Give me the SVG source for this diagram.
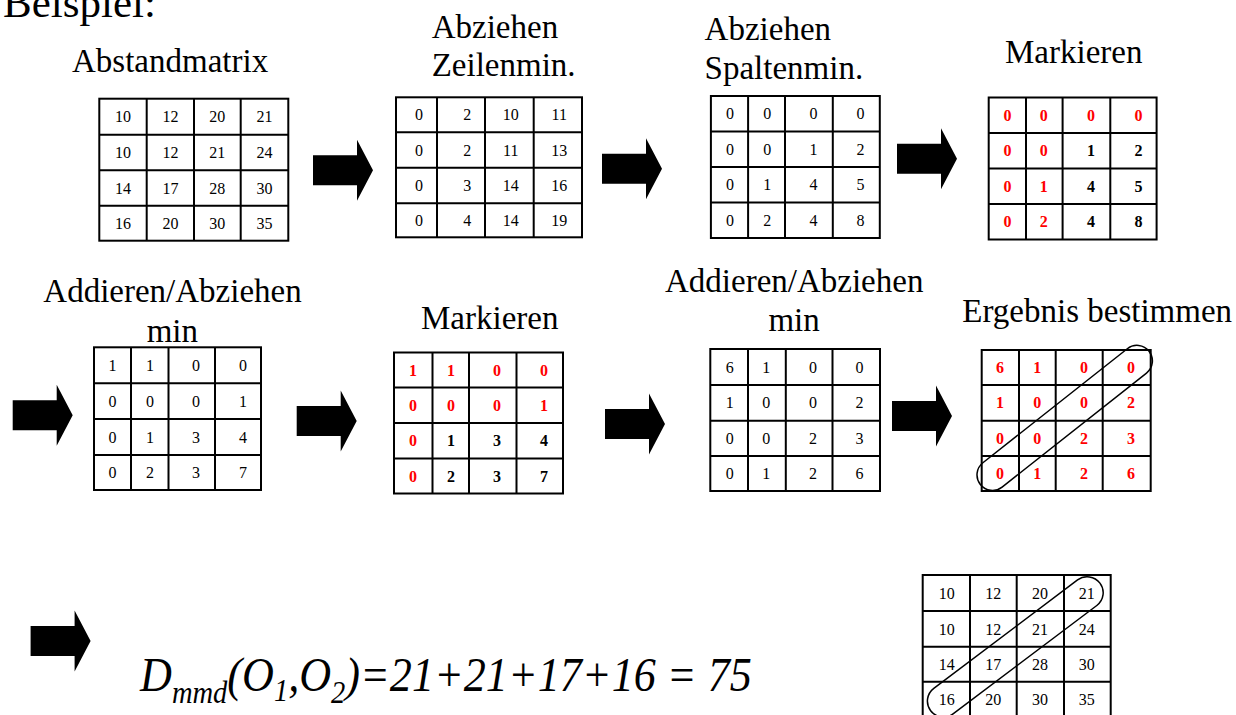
<svg xmlns="http://www.w3.org/2000/svg" xmlns:xlink="http://www.w3.org/1999/xlink" width="1236" height="715" viewBox="0 0 1236 715">
<style>
.lbl{font-family:"Liberation Serif","Times New Roman",serif;font-size:33px;fill:#000}
.ttl{font-family:"Liberation Serif","Times New Roman",serif;font-size:43px;fill:#000}
.grid{fill:#fff;stroke:#000;stroke-width:2}
.ln{stroke:#000;stroke-width:2;fill:none}
.n{font-family:"Liberation Serif","Times New Roman",serif;font-size:16px;fill:#000;text-anchor:middle}
.b{font-weight:bold}
.r{fill:#ff0000}
.cap{fill:none;stroke:#000;stroke-width:1.5}
.fm{font-family:"Liberation Serif","Times New Roman",serif;font-style:italic;font-size:48px;fill:#000}
.blk{fill:#000}
</style>
<defs>
<path id="blkarrow" class="blk" d="M0,-15 H44 V-30.5 L60,0 L44,30.5 V15 H0 Z"/>
</defs>
<rect width="1236" height="715" fill="#fff"/>

<text class="ttl" x="3" y="17">Beispiel:</text>

<g id="m1">
<text class="lbl" x="72" y="72">Abstandmatrix</text>
<rect class="grid" x="99.3" y="98.7" width="189" height="142"/>
<path class="ln" d="M146.7,98.7V240.7M194,98.7V240.7M240.7,98.7V240.7M99.3,134.7H288.3M99.3,170.3H288.3M99.3,205.7H288.3"/>
<g class="n">
<text x="123" y="122.2">10</text><text x="170.5" y="122.2">12</text><text x="217.3" y="122.2">20</text><text x="264.5" y="122.2">21</text>
<text x="123" y="158">10</text><text x="170.5" y="158">12</text><text x="217.3" y="158">21</text><text x="264.5" y="158">24</text>
<text x="123" y="193.5">14</text><text x="170.5" y="193.5">17</text><text x="217.3" y="193.5">28</text><text x="264.5" y="193.5">30</text>
<text x="123" y="228.7">16</text><text x="170.5" y="228.7">20</text><text x="217.3" y="228.7">30</text><text x="264.5" y="228.7">35</text>
</g>
</g>

<g id="m2">
<text class="lbl" x="431.7" y="37.7">Abziehen</text>
<text class="lbl" x="431.7" y="75.7">Zeilenmin.</text>
<rect class="grid" x="396" y="97.3" width="186" height="140"/>
<path class="ln" d="M437,97.3V237.3M485,97.3V237.3M533.7,97.3V237.3M396,132.3H582M396,167.7H582M396,203.3H582"/>
<g class="n">
<text x="419" y="120.3">0</text><text x="467.3" y="120.3">2</text><text x="510.7" y="120.3">10</text><text x="559.3" y="120.3">11</text>
<text x="419" y="155.5">0</text><text x="467.3" y="155.5">2</text><text x="510.7" y="155.5">11</text><text x="559.3" y="155.5">13</text>
<text x="419" y="191">0</text><text x="467.3" y="191">3</text><text x="510.7" y="191">14</text><text x="559.3" y="191">16</text>
<text x="419" y="226">0</text><text x="467.3" y="226">4</text><text x="510.7" y="226">14</text><text x="559.3" y="226">19</text>
</g>
</g>

<g id="m3">
<text class="lbl" x="704.6" y="40">Abziehen</text>
<text class="lbl" x="704.6" y="79">Spaltenmin.</text>
<rect class="grid" x="710.9" y="96" width="168.9" height="142"/>
<path class="ln" d="M748.1,96V238M785,96V238M832.8,96V238M710.9,131.5H879.8M710.9,167H879.8M710.9,202.5H879.8"/>
<g class="n">
<text x="730" y="119.3">0</text><text x="767.3" y="119.3">0</text><text x="813.6" y="119.3">0</text><text x="860.6" y="119.3">0</text>
<text x="730" y="154.8">0</text><text x="767.3" y="154.8">0</text><text x="813.6" y="154.8">1</text><text x="860.6" y="154.8">2</text>
<text x="730" y="190.3">0</text><text x="767.3" y="190.3">1</text><text x="813.6" y="190.3">4</text><text x="860.6" y="190.3">5</text>
<text x="730" y="225.8">0</text><text x="767.3" y="225.8">2</text><text x="813.6" y="225.8">4</text><text x="860.6" y="225.8">8</text>
</g>
</g>

<g id="m4">
<text class="lbl" x="1005" y="63">Markieren</text>
<rect class="grid" x="988.7" y="97.5" width="167.9" height="142"/>
<path class="ln" d="M1026,97.5V239.5M1062.6,97.5V239.5M1110.3,97.5V239.5M988.7,133H1156.6M988.7,168.5H1156.6M988.7,204H1156.6"/>
<g class="n b">
<text class="r" x="1007.5" y="120.8">0</text><text class="r" x="1043.8" y="120.8">0</text><text class="r" x="1091.1" y="120.8">0</text><text class="r" x="1138.5" y="120.8">0</text>
<text class="r" x="1007.5" y="156.3">0</text><text class="r" x="1043.8" y="156.3">0</text><text x="1091.1" y="156.3">1</text><text x="1138.5" y="156.3">2</text>
<text class="r" x="1007.5" y="191.8">0</text><text class="r" x="1043.8" y="191.8">1</text><text x="1091.1" y="191.8">4</text><text x="1138.5" y="191.8">5</text>
<text class="r" x="1007.5" y="227.3">0</text><text class="r" x="1043.8" y="227.3">2</text><text x="1091.1" y="227.3">4</text><text x="1138.5" y="227.3">8</text>
</g>
</g>

<g id="m5">
<text class="lbl" x="43.3" y="301.7">Addieren/Abziehen</text>
<text class="lbl" x="146.7" y="341.7">min</text>
<rect class="grid" x="94" y="347.3" width="167" height="142.7"/>
<path class="ln" d="M131,347.3V490M168.5,347.3V490M215,347.3V490M94,383.3H261M94,419H261M94,455H261"/>
<g class="n">
<text x="112.5" y="370.8">1</text><text x="150" y="370.8">1</text><text x="196" y="370.8">0</text><text x="243" y="370.8">0</text>
<text x="112.5" y="406.6">0</text><text x="150" y="406.6">0</text><text x="196" y="406.6">0</text><text x="243" y="406.6">1</text>
<text x="112.5" y="442.5">0</text><text x="150" y="442.5">1</text><text x="196" y="442.5">3</text><text x="243" y="442.5">4</text>
<text x="112.5" y="478">0</text><text x="150" y="478">2</text><text x="196" y="478">3</text><text x="243" y="478">7</text>
</g>
</g>

<g id="m6">
<text class="lbl" x="421" y="328.5">Markieren</text>
<rect class="grid" x="394" y="352.5" width="169" height="141"/>
<path class="ln" d="M432.5,352.5V493.5M469,352.5V493.5M516.5,352.5V493.5M394,387.5H563M394,423H563M394,458.5H563"/>
<g class="n b">
<text class="r" x="413" y="375.5">1</text><text class="r" x="451" y="375.5">1</text><text class="r" x="497" y="375.5">0</text><text class="r" x="544" y="375.5">0</text>
<text class="r" x="413" y="410.8">0</text><text class="r" x="451" y="410.8">0</text><text class="r" x="497" y="410.8">0</text><text class="r" x="544" y="410.8">1</text>
<text class="r" x="413" y="446.3">0</text><text x="451" y="446.3">1</text><text x="497" y="446.3">3</text><text x="544" y="446.3">4</text>
<text class="r" x="413" y="481.5">0</text><text x="451" y="481.5">2</text><text x="497" y="481.5">3</text><text x="544" y="481.5">7</text>
</g>
</g>

<g id="m7">
<text class="lbl" x="665" y="292">Addieren/Abziehen</text>
<text class="lbl" x="768.4" y="331">min</text>
<rect class="grid" x="710.3" y="349" width="169.7" height="142"/>
<path class="ln" d="M748,349V491M785.8,349V491M832.5,349V491M710.3,385H880M710.3,420.7H880M710.3,456H880"/>
<g class="n">
<text x="729.8" y="372.5">6</text><text x="766.3" y="372.5">1</text><text x="813" y="372.5">0</text><text x="859.6" y="372.5">0</text>
<text x="729.8" y="408.3">1</text><text x="766.3" y="408.3">0</text><text x="813" y="408.3">0</text><text x="859.6" y="408.3">2</text>
<text x="729.8" y="443.8">0</text><text x="766.3" y="443.8">0</text><text x="813" y="443.8">2</text><text x="859.6" y="443.8">3</text>
<text x="729.8" y="479">0</text><text x="766.3" y="479">1</text><text x="813" y="479">2</text><text x="859.6" y="479">6</text>
</g>
</g>

<g id="m8">
<text class="lbl" x="962.3" y="322">Ergebnis bestimmen</text>
<rect class="grid" x="981.7" y="350" width="169" height="141"/>
<path class="ln" d="M1019,350V491M1055.7,350V491M1102.7,350V491M981.7,385H1150.7M981.7,420.7H1150.7M981.7,456H1150.7"/>
<g class="n b r">
<text x="1000" y="373">6</text><text x="1037.3" y="373">1</text><text x="1084" y="373">0</text><text x="1131" y="373">0</text>
<text x="1000" y="408.3">1</text><text x="1037.3" y="408.3">0</text><text x="1084" y="408.3">0</text><text x="1131" y="408.3">2</text>
<text x="1000" y="443.8">0</text><text x="1037.3" y="443.8">0</text><text x="1084" y="443.8">2</text><text x="1131" y="443.8">3</text>
<text x="1000" y="479">0</text><text x="1037.3" y="479">1</text><text x="1084" y="479">2</text><text x="1131" y="479">6</text>
</g>
<rect class="cap" x="-107.5" y="-15.5" width="215" height="31" rx="15.5" ry="15.5" transform="translate(1064.7,417.9) rotate(-38.3)"/>
</g>

<g id="m9">
<rect class="grid" x="922.7" y="575" width="188" height="142"/>
<path class="ln" d="M970,575V717M1016.7,575V717M1064,575V717M922.7,611H1110.7M922.7,646.7H1110.7M922.7,681.7H1110.7"/>
<g class="n">
<text x="946.7" y="598.8">10</text><text x="993.3" y="598.8">12</text><text x="1040" y="598.8">20</text><text x="1086.7" y="598.8">21</text>
<text x="946.7" y="634.6">10</text><text x="993.3" y="634.6">12</text><text x="1040" y="634.6">21</text><text x="1086.7" y="634.6">24</text>
<text x="946.7" y="670">14</text><text x="993.3" y="670">17</text><text x="1040" y="670">28</text><text x="1086.7" y="670">30</text>
<text x="946.7" y="705">16</text><text x="993.3" y="705">20</text><text x="1040" y="705">30</text><text x="1086.7" y="705">35</text>
</g>
<rect class="cap" x="-106" y="-16" width="212" height="32" rx="16" ry="16" transform="translate(1015.3,646.9) rotate(-37)"/>
</g>

<g id="result">
<text class="fm" transform="translate(140,691) scale(0.92,1)">D<tspan font-size="31" dy="12">mmd</tspan><tspan dy="-12">(O</tspan><tspan font-size="31" dy="10">1</tspan><tspan dy="-10">,O</tspan><tspan font-size="31" dy="12">2</tspan><tspan dy="-12">)=21+21+17+16 = 75</tspan></text>
</g>

<g id="connectors">
<use xlink:href="#blkarrow" href="#blkarrow" transform="translate(313,170.3)"/>
<use xlink:href="#blkarrow" href="#blkarrow" transform="translate(602,168.7)"/>
<use xlink:href="#blkarrow" href="#blkarrow" transform="translate(897,158.8)"/>
<use xlink:href="#blkarrow" href="#blkarrow" transform="translate(12.7,415.3)"/>
<use xlink:href="#blkarrow" href="#blkarrow" transform="translate(296.7,420.9)"/>
<use xlink:href="#blkarrow" href="#blkarrow" transform="translate(605,424)"/>
<use xlink:href="#blkarrow" href="#blkarrow" transform="translate(892,416)"/>
<use xlink:href="#blkarrow" href="#blkarrow" transform="translate(30.6,641)"/>
</g>
</svg>
